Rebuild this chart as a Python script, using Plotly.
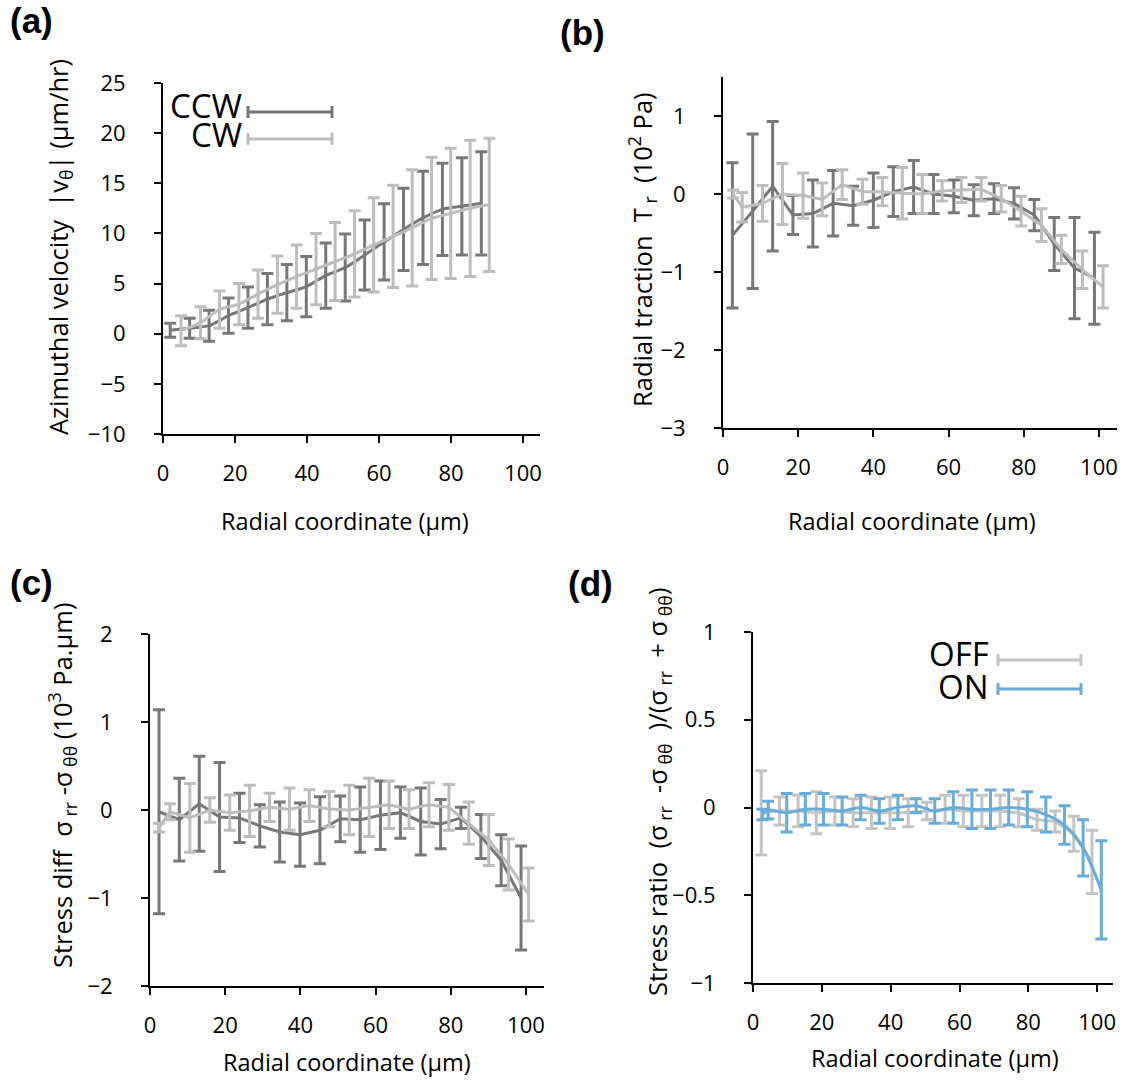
import plotly.graph_objects as go

# ---------------- data ----------------
# (a) azimuthal velocity |v_theta| (um/hr)
a_ccw_r = [2.0, 7.4, 12.8, 18.2, 23.6, 29.0, 34.4, 39.8, 45.2, 50.6, 56.0, 61.4, 66.8, 72.2, 77.6, 83.0, 88.4]
a_ccw_v = [0.35, 0.55, 0.8, 1.8, 2.6, 3.45, 4.1, 4.7, 5.8, 6.6, 7.85, 9.15, 10.4, 11.55, 12.4, 12.7, 13.0]
a_ccw_e = [0.7, 1.0, 1.55, 1.75, 2.05, 2.55, 2.8, 3.0, 3.25, 3.35, 3.5, 3.8, 4.1, 4.65, 4.6, 4.85, 5.15]
a_cw_r = [5.0, 10.4, 15.7, 21.1, 26.4, 31.8, 37.1, 42.5, 47.8, 53.2, 58.5, 63.9, 69.2, 74.6, 79.9, 85.3, 90.6]
a_cw_v = [0.3, 1.1, 2.4, 2.95, 3.95, 4.9, 5.7, 6.45, 7.2, 7.95, 8.85, 9.7, 10.55, 11.5, 12.0, 12.5, 12.85]
a_cw_e = [1.5, 1.6, 1.85, 2.05, 2.4, 2.85, 3.15, 3.55, 3.9, 4.3, 4.7, 5.1, 5.8, 6.1, 6.5, 6.8, 6.65]

# (b) radial traction T_r (10^2 Pa)
b_ccw_r = [2.5, 7.9, 13.2, 18.6, 23.9, 29.3, 34.6, 40.0, 45.3, 50.7, 56.0, 61.4, 66.7, 72.1, 77.4, 82.8, 88.1, 93.5, 98.8]
b_ccw_v = [-0.53, -0.22, 0.1, -0.27, -0.25, -0.12, -0.15, -0.08, 0.03, 0.09, 0.0, -0.03, -0.08, -0.06, -0.12, -0.27, -0.64, -0.95, -1.08]
b_ccw_e = [0.93, 0.99, 0.83, 0.25, 0.43, 0.42, 0.25, 0.35, 0.32, 0.34, 0.25, 0.21, 0.2, 0.19, 0.2, 0.2, 0.34, 0.65, 0.59]
b_cw_r = [2.7, 5.1, 10.5, 15.8, 21.3, 26.4, 31.7, 37.1, 42.4, 47.7, 53.0, 58.3, 63.4, 68.7, 74.0, 79.3, 84.7, 90.0, 95.6, 101.1]
b_cw_v = [0.0, -0.17, -0.12, 0.0, -0.02, -0.07, 0.12, 0.03, 0.03, 0.01, 0.0, 0.04, 0.05, 0.06, -0.06, -0.22, -0.4, -0.71, -0.97, -1.19]
b_cw_e = [0.05, 0.19, 0.23, 0.39, 0.29, 0.21, 0.19, 0.16, 0.18, 0.33, 0.25, 0.13, 0.16, 0.15, 0.17, 0.19, 0.21, 0.18, 0.24, 0.27]

# (c) stress difference sigma_rr - sigma_thth (10^3 Pa.um)
c_ccw_r = [2.4, 7.8, 13.1, 18.5, 23.8, 29.2, 34.5, 39.9, 45.2, 50.6, 55.9, 61.3, 66.6, 72.0, 77.3, 82.7, 88.0, 93.4, 98.7]
c_ccw_v = [-0.02, -0.11, 0.07, -0.08, -0.09, -0.18, -0.25, -0.28, -0.23, -0.1, -0.11, -0.06, -0.03, -0.13, -0.16, -0.09, -0.3, -0.57, -1.0]
c_ccw_e = [1.16, 0.47, 0.54, 0.62, 0.28, 0.24, 0.34, 0.36, 0.38, 0.26, 0.37, 0.39, 0.29, 0.38, 0.28, 0.12, 0.25, 0.29, 0.59]
c_cw_r = [2.4, 5.3, 10.6, 15.9, 21.2, 26.5, 31.8, 37.1, 42.4, 47.7, 53.0, 58.3, 63.6, 68.9, 74.2, 79.5, 84.8, 90.1, 95.4, 100.7]
c_cw_v = [-0.2, -0.02, -0.09, 0.0, -0.03, -0.01, 0.03, 0.01, 0.05, 0.01, 0.0, 0.03, 0.06, 0.01, 0.06, 0.03, -0.15, -0.34, -0.62, -0.96]
c_cw_e = [0.05, 0.09, 0.39, 0.14, 0.2, 0.29, 0.16, 0.24, 0.18, 0.2, 0.28, 0.33, 0.27, 0.22, 0.25, 0.26, 0.24, 0.29, 0.29, 0.3]

# (d) stress ratio, OFF / ON
d_off_r = [2.4, 7.7, 13.1, 18.4, 23.8, 29.1, 34.4, 39.8, 45.1, 50.5, 55.8, 61.1, 66.5, 71.8, 77.2, 82.5, 87.8, 93.2, 98.5]
d_off_v = [-0.03, -0.02, -0.02, -0.03, -0.02, -0.03, -0.03, -0.03, -0.03, -0.02, -0.01, -0.02, -0.02, -0.02, -0.03, -0.07, -0.08, -0.15, -0.31]
d_off_e = [0.24, 0.08, 0.09, 0.12, 0.08, 0.08, 0.09, 0.09, 0.08, 0.05, 0.08, 0.09, 0.09, 0.09, 0.08, 0.06, 0.06, 0.1, 0.18]
d_on_r = [2.7, 4.4, 9.8, 15.2, 20.5, 25.9, 31.3, 36.7, 42.1, 47.4, 52.8, 58.2, 63.6, 69.0, 74.3, 79.7, 85.1, 90.5, 95.9, 101.2]
d_on_v = [-0.04, -0.015, -0.03, -0.01, -0.01, -0.02, 0.0, -0.02, 0.0, 0.01, -0.02, 0.0, -0.01, -0.01, 0.0, -0.01, -0.04, -0.1, -0.23, -0.47]
d_on_e = [0.03, 0.05, 0.11, 0.09, 0.09, 0.08, 0.07, 0.07, 0.07, 0.04, 0.07, 0.09, 0.11, 0.11, 0.1, 0.1, 0.1, 0.11, 0.16, 0.28]

x_ticks = [0, 20, 40, 60, 80, 100]

DARK = "#777777"
LIGHT = "#bdbdbd"
OFFGRAY = "#c4c4c4"
BLUE = "#68acd8"
FONT = "Open Sans"

W, H = 1128, 1088


def px(x):
    return x / W


def py(y):
    return 1 - y / H


fig = go.Figure()


def series(r, v, e, color, xa, ya, shape="linear"):
    fig.add_trace(go.Scatter(
        x=r, y=v, mode="lines", xaxis=xa, yaxis=ya, showlegend=False,
        line=dict(color=color, width=3, shape=shape, smoothing=0.8),
        error_y=dict(type="data", array=e, color=color, thickness=3, width=6),
    ))


series(a_ccw_r, a_ccw_v, a_ccw_e, DARK, "x", "y", "spline")
series(a_cw_r, a_cw_v, a_cw_e, LIGHT, "x", "y", "spline")
series(b_ccw_r, b_ccw_v, b_ccw_e, DARK, "x2", "y2")
series(b_cw_r, b_cw_v, b_cw_e, LIGHT, "x2", "y2")
series(c_ccw_r, c_ccw_v, c_ccw_e, DARK, "x3", "y3")
series(c_cw_r, c_cw_v, c_cw_e, LIGHT, "x3", "y3")
series(d_off_r, d_off_v, d_off_e, OFFGRAY, "x4", "y4")
series(d_on_r, d_on_v, d_on_e, BLUE, "x4", "y4", "spline")

axis_common = dict(
    showline=True, linecolor="black", linewidth=2, showgrid=False, zeroline=False,
    ticks="outside", ticklen=7, tickwidth=1.5, tickcolor="black", automargin=False,
    tickfont=dict(family=FONT, size=22, color="black"),
)

# plot boxes (left, top, right, bottom) in pixels
boxes = {
    "": (163, 83, 540, 434),
    "2": (723, 77, 1117, 428),
    "3": (150, 634, 544, 986),
    "4": (753, 632, 1113, 983),
}
yranges = {"": [-10, 25], "2": [-3, 1.5], "3": [-2, 2], "4": [-1, 1]}
yticks = {
    "": [-10, -5, 0, 5, 10, 15, 20, 25],
    "2": [-3, -2, -1, 0, 1],
    "3": [-2, -1, 0, 1, 2],
    "4": [-1, -0.5, 0, 0.5, 1],
}
xmax = {"": 104.7, "2": 104.8, "3": 104.8, "4": 104.6}

layout = dict(
    width=W, height=H, margin=dict(l=0, r=0, t=0, b=0, pad=0, autoexpand=False),
    paper_bgcolor="white", plot_bgcolor="white", showlegend=False,
    font=dict(family=FONT, color="black"),
)
for k, (l, t, r, b) in boxes.items():
    layout["xaxis" + k] = dict(
        axis_common, domain=[px(l), px(r)], range=[0, xmax[k]],
        tickvals=x_ticks, anchor="y" + k, ticklabelstandoff=12,
    )
    layout["yaxis" + k] = dict(
        axis_common, domain=[py(b), py(t)], range=yranges[k],
        tickvals=yticks[k], anchor="x" + k, ticklabelstandoff=24,
    )
fig.update_layout(**layout)

# axis titles
xtitle = "Radial coordinate (µm)"
for cx, cy in [(345, 521), (912, 521), (347, 1062), (935, 1058)]:
    fig.add_annotation(x=px(cx), y=py(cy), xref="paper", yref="paper", text=xtitle,
                       showarrow=False, xanchor="center", yanchor="middle",
                       font=dict(family=FONT, size=23.5, color="black"))

ytitles = [
    ("Azimuthal velocity\u00a0\u00a0|v<sub>θ</sub>| (µm/hr)", 59, 247),
    ("Radial traction\u00a0\u00a0T<sub>\u00a0r</sub>\u00a0\u00a0(10<sup>2</sup>\u00a0Pa)", 642, 250),
    ("Stress diff\u00a0\u00a0σ<sub>\u00a0rr</sub>\u00a0-σ<sub>\u00a0θθ</sub>\u00a0(10<sup>3</sup> Pa.µm)", 62, 786),
    ("Stress ratio\u00a0\u00a0(σ<sub>\u00a0rr</sub>\u00a0\u00a0-σ<sub>\u00a0θθ</sub>\u00a0\u00a0)/(σ<sub>\u00a0rr</sub>\u00a0\u00a0+\u00a0σ<sub>\u00a0θθ</sub>)", 658, 792),
]
for txt, cx, cy in ytitles:
    fig.add_annotation(x=px(cx), y=py(cy), xref="paper", yref="paper", text=txt,
                       showarrow=False, textangle=-90, xanchor="center", yanchor="middle",
                       font=dict(family=FONT, size=25.5, color="black"))

# panel letters
for lab, lx, ly in [("(a)", 8, 21), ("(b)", 558, 32), ("(c)", 8, 582), ("(d)", 566, 583)]:
    fig.add_annotation(x=px(lx), y=py(ly), xref="paper", yref="paper", text="<b>%s</b>" % lab,
                       showarrow=False, xanchor="left", yanchor="middle",
                       font=dict(family="Liberation Sans", size=35, color="black"))


# legends: label on the left, error-bar glyph on the right
def legend_entry(label, color, text_right, y_text, x0, x1, y_line):
    fig.add_annotation(x=px(text_right), y=py(y_text), xref="paper", yref="paper",
                       text=label, showarrow=False, xanchor="right", yanchor="middle",
                       font=dict(family=FONT, size=33, color="black"))
    ln = dict(color=color, width=3)
    fig.add_shape(type="line", xref="paper", yref="paper",
                  x0=px(x0), x1=px(x1), y0=py(y_line), y1=py(y_line), line=ln)
    for xc in (x0, x1):
        fig.add_shape(type="line", xref="paper", yref="paper",
                      x0=px(xc), x1=px(xc), y0=py(y_line - 6), y1=py(y_line + 6), line=ln)


legend_entry("CCW", DARK, 244, 106, 248, 332, 112)
legend_entry("CW", LIGHT, 244, 135, 248, 332, 139)
legend_entry("OFF", OFFGRAY, 991, 653, 998, 1081, 660)
legend_entry("ON", BLUE, 991, 686, 998, 1081, 689)

fig.write_html("out.html")
